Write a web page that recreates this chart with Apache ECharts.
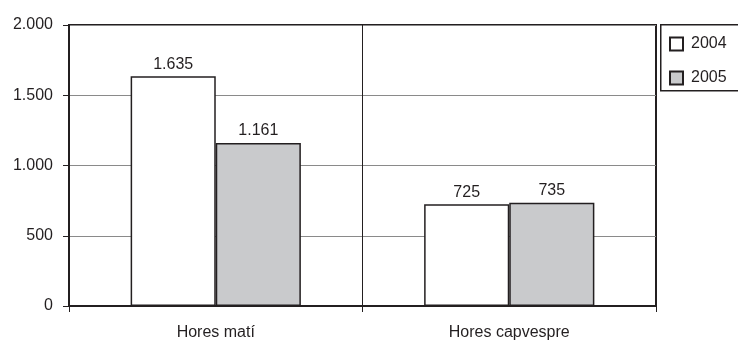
<!DOCTYPE html>
<html>
<head>
<meta charset="utf-8">
<script src="https://cdn.jsdelivr.net/npm/echarts@6/dist/echarts.min.js"></script>
<style>
  html, body { margin: 0; padding: 0; background: #fff; }
  #chart { width: 738px; height: 341px; }
</style>
</head>
<body>
<div id="chart"></div>
<script>
// Hours by shift, two years
const categories = ['Hores matí', 'Hores capvespre'];
const seriesNames = ['2004', '2005'];
const values2004 = [1635, 725];
const values2005 = [1161, 735];
const yTicks = [0, 500, 1000, 1500, 2000];

const FONT = 'Liberation Sans';
const INK = '#231f20';

// Catalan thousands separator: 1635 -> "1.635"
function fmt(v) {
  return String(Math.round(v)).replace(/\B(?=(\d{3})+(?!\d))/g, '.');
}

const chart = echarts.init(document.getElementById('chart'), null, { renderer: 'canvas' });

const barBase = {
  type: 'bar',
  barGap: '0%',
  barCategoryGap: '42%',
  label: {
    show: true,
    position: 'top',
    distance: 4,
    fontFamily: FONT,
    fontSize: 16,
    color: INK,
    formatter: p => fmt(p.value)
  }
};

chart.setOption({
  animation: false,
  backgroundColor: '#ffffff',
  textStyle: { fontFamily: FONT },
  grid: {
    left: 69, top: 25, right: 82, bottom: 35,
    show: true,
    borderColor: INK,
    borderWidth: 2,
    backgroundColor: 'transparent'
  },
  // legend frame runs off the right edge of the canvas
  graphic: [{
    type: 'rect',
    left: 660, top: 24,
    shape: { width: 100, height: 66 },
    style: { fill: 'transparent', stroke: INK, lineWidth: 1.5 },
    silent: true
  }],
  legend: {
    orient: 'vertical',
    left: 660,
    top: 24,
    padding: [12, 20, 10, 9],
    itemWidth: 13,
    itemHeight: 13,
    itemGap: 18,
    icon: 'rect',
    textStyle: { fontFamily: FONT, fontSize: 16, color: INK, padding: [0, 0, 0, 3] },
    data: seriesNames
  },
  xAxis: {
    type: 'category',
    data: categories,
    axisLine: { show: true, lineStyle: { color: INK, width: 2 } },
    axisTick: { show: true, length: 6, lineStyle: { color: INK, width: 1 } },
    splitLine: { show: true, lineStyle: { color: INK, width: 1 } },
    axisLabel: { fontFamily: FONT, fontSize: 16, color: INK, margin: 19 }
  },
  yAxis: {
    type: 'value',
    min: yTicks[0],
    max: yTicks[yTicks.length - 1],
    interval: yTicks[1] - yTicks[0],
    axisLine: { show: true, lineStyle: { color: INK, width: 2 } },
    axisTick: { show: true, length: 6, lineStyle: { color: INK, width: 1 } },
    splitLine: { show: true, lineStyle: { color: '#8a8a8a', width: 1 } },
    axisLabel: { fontFamily: FONT, fontSize: 16, color: INK, margin: 16, formatter: v => fmt(v) }
  },
  series: [
    Object.assign({}, barBase, {
      name: seriesNames[0],
      data: values2004,
      itemStyle: { color: '#ffffff', borderColor: INK, borderWidth: 1.5 }
    }),
    Object.assign({}, barBase, {
      name: seriesNames[1],
      data: values2005,
      itemStyle: { color: '#c9cacc', borderColor: INK, borderWidth: 1.5 }
    })
  ]
});
</script>
</body>
</html>
